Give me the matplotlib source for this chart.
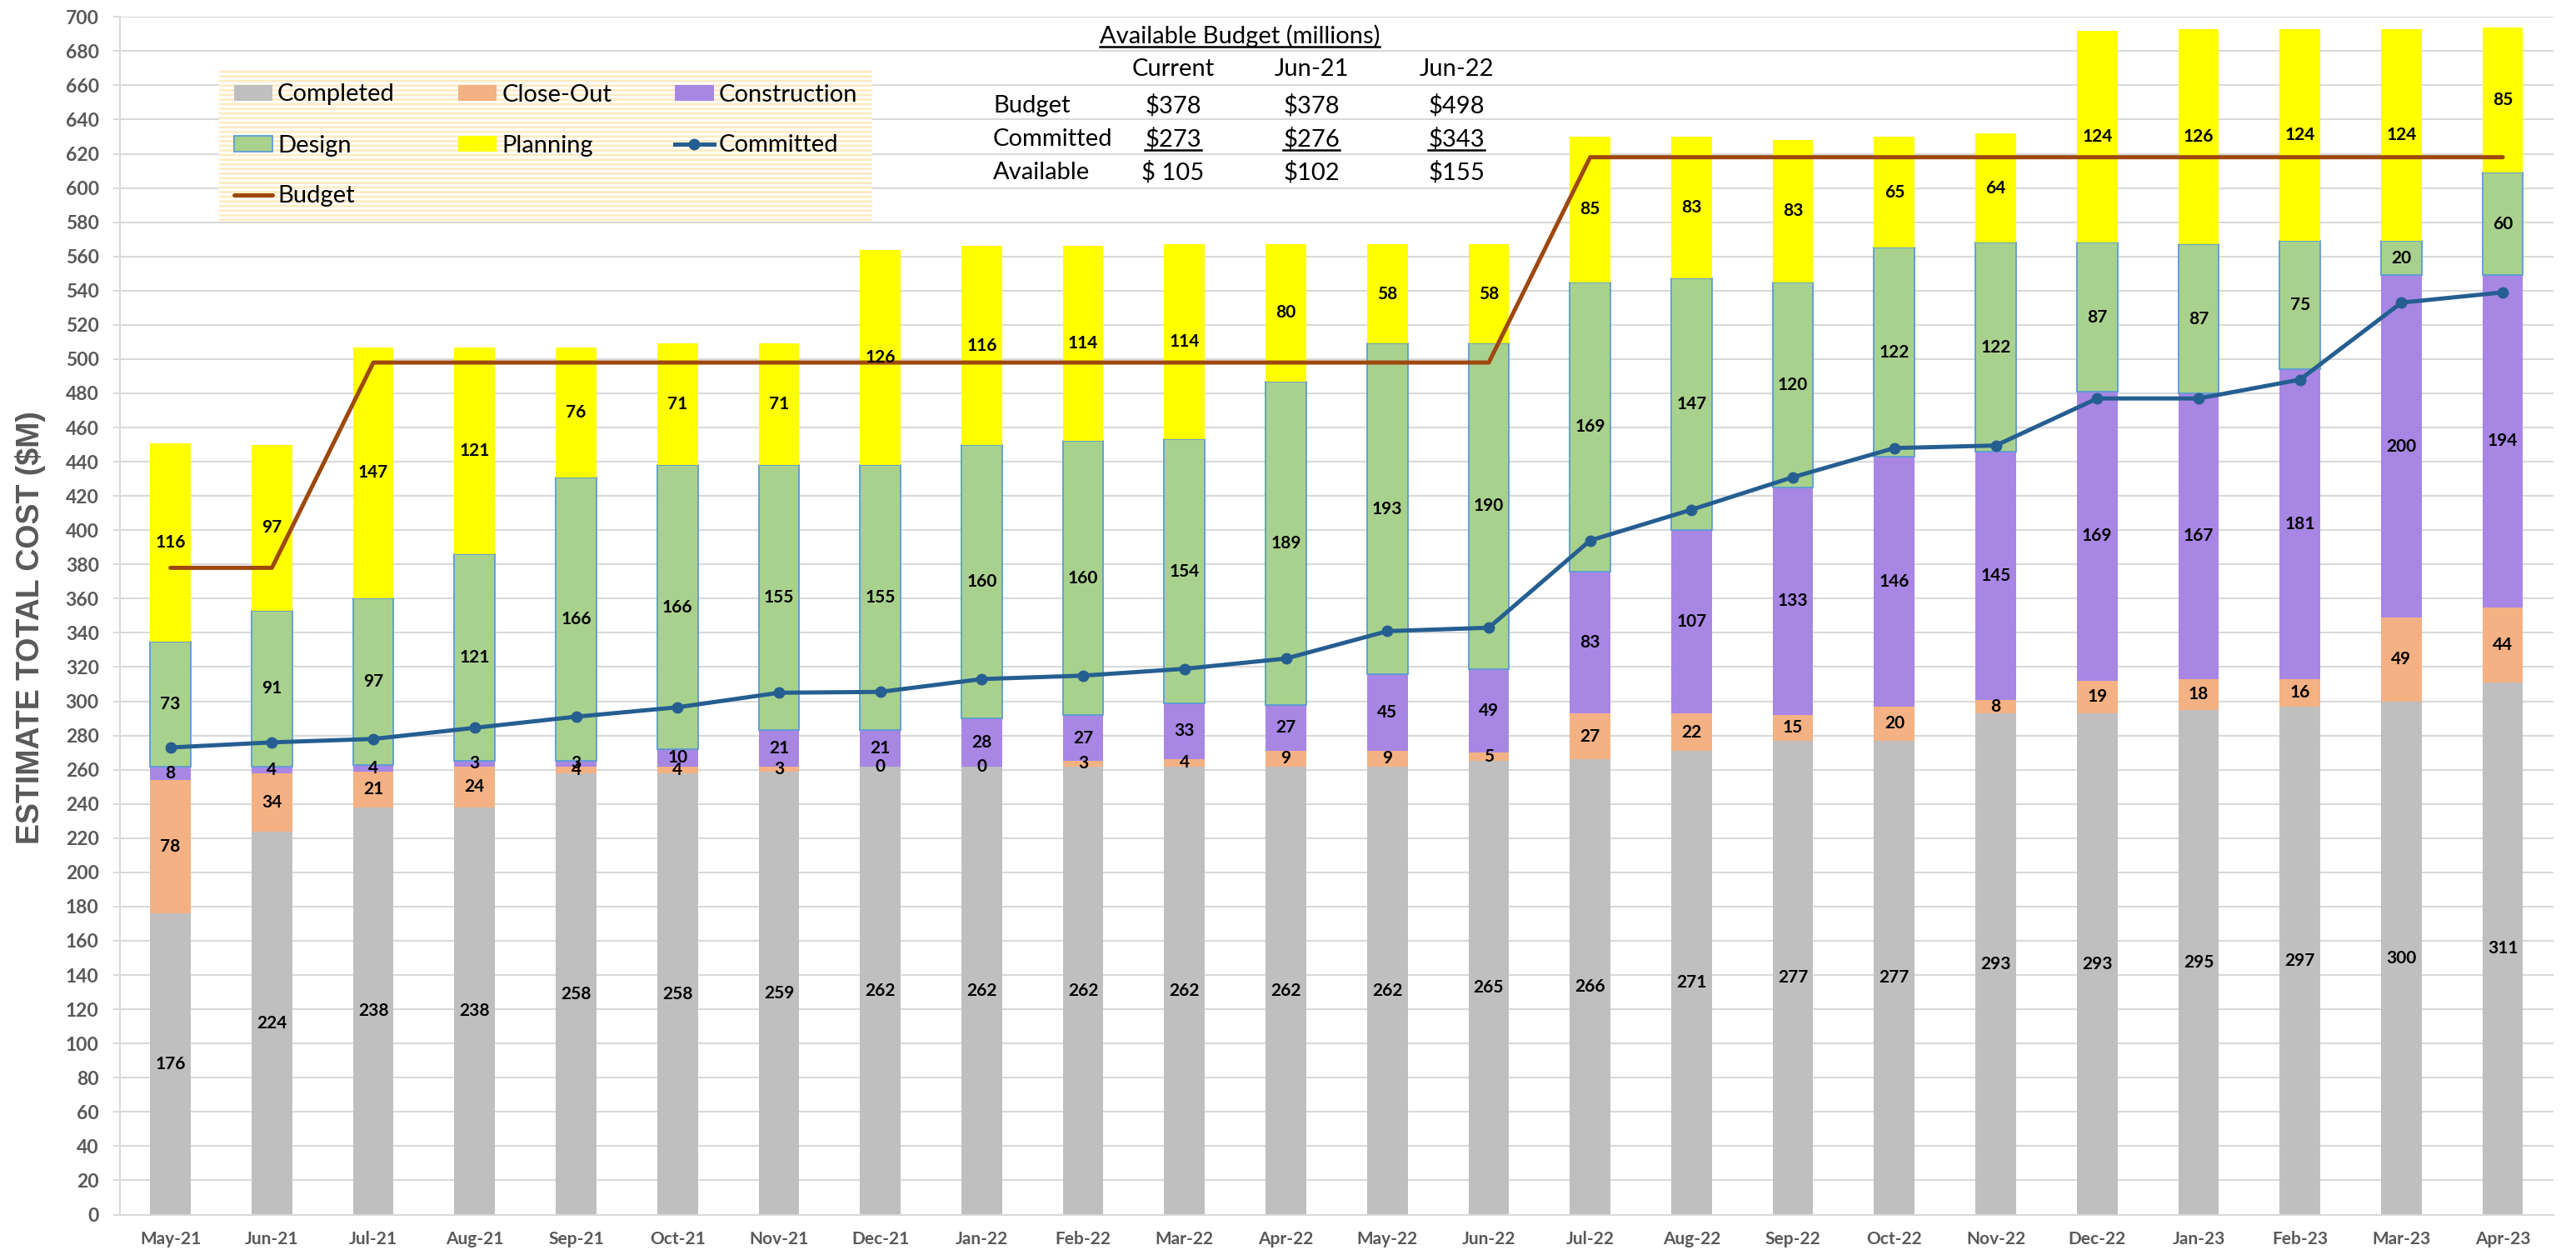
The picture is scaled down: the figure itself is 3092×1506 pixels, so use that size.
import matplotlib
matplotlib.use('Agg')
import matplotlib.pyplot as plt
import numpy as np

plt.rcParams['font.family'] = ['Lato', 'DejaVu Sans']
plt.rcParams['hatch.linewidth'] = 2.0

months = ['May-21', 'Jun-21', 'Jul-21', 'Aug-21', 'Sep-21', 'Oct-21', 'Nov-21', 'Dec-21',
          'Jan-22', 'Feb-22', 'Mar-22', 'Apr-22', 'May-22', 'Jun-22', 'Jul-22', 'Aug-22',
          'Sep-22', 'Oct-22', 'Nov-22', 'Dec-22', 'Jan-23', 'Feb-23', 'Mar-23', 'Apr-23']
completed = [176, 224, 238, 238, 258, 258, 259, 262, 262, 262, 262, 262,
             262, 265, 266, 271, 277, 277, 293, 293, 295, 297, 300, 311]
closeout = [78, 34, 21, 24, 4, 4, 3, 0, 0, 3, 4, 9,
            9, 5, 27, 22, 15, 20, 8, 19, 18, 16, 49, 44]
construction = [8, 4, 4, 3, 3, 10, 21, 21, 28, 27, 33, 27,
                45, 49, 83, 107, 133, 146, 145, 169, 167, 181, 200, 194]
design = [73, 91, 97, 121, 166, 166, 155, 155, 160, 160, 154, 189,
          193, 190, 169, 147, 120, 122, 122, 87, 87, 75, 20, 60]
planning = [116, 97, 147, 121, 76, 71, 71, 126, 116, 114, 114, 80,
            58, 58, 85, 83, 83, 65, 64, 124, 126, 124, 124, 85]
committed = [273, 276, 278, 284.5, 291, 296.5, 305, 305.5, 313, 315, 319, 325,
             341, 343, 394, 412, 431, 448, 449.5, 477, 477, 488, 533, 539]
budget = [378, 378, 498, 498, 498, 498, 498, 498, 498, 498, 498, 498,
          498, 498, 618, 618, 618, 618, 618, 618, 618, 618, 618, 618]

# little summary table in the top middle
tbl_title = 'Available Budget (millions)'
tbl_cols = ['Current', 'Jun-21', 'Jun-22']
tbl_rows = ['Budget', 'Committed', 'Available']
tbl_vals = [['$378', '$378', '$498'],
            ['$273', '$276', '$343'],
            ['$ 105', '$102', '$155']]

W, H = 3092, 1506
fig = plt.figure(figsize=(W/100, H/100), dpi=100)
ax = fig.add_axes([143.8/W, 1-1457.5/H, (3065-143.8)/W, (1457.5-20.3)/H])

x = np.arange(len(months))
bw = 0.4
series = [('Completed', completed, '#BFBFBF', 'none'),
          ('Close-Out', closeout, '#F4B183', 'none'),
          ('Construction', construction, '#A886E4', 'none'),
          ('Design', design, '#A9D18E', '#5B9BD5'),
          ('Planning', planning, '#FFFF00', 'none')]

bottom = np.zeros(len(months))
handles = {}
for name, vals, col, ec in series:
    vals = np.array(vals, dtype=float)
    b = ax.bar(x, vals, bw, bottom=bottom, color=col, edgecolor=ec,
               linewidth=1.3 if ec != 'none' else 0, label=name, zorder=2)
    handles[name] = b
    for xi, v, b0 in zip(x, vals, bottom):
        ax.text(xi, b0 + v/2, '%d' % v, ha='center', va='center',
                fontsize=15, fontweight='bold', color='black', zorder=6)
    bottom += vals

ln_c, = ax.plot(x, committed, color='#255E91', lw=3.6, marker='o', ms=9,
                label='Committed', zorder=4)
ln_b, = ax.plot(x, budget, color='#9E480E', lw=3.6, label='Budget', zorder=4,
                solid_capstyle='round')

ax.set_xlim(-0.5, len(months)-0.5)
ax.set_ylim(0, 700)
ax.set_yticks(np.arange(0, 701, 20))
ax.set_xticks(x)
ax.set_xticklabels(months)
ax.grid(axis='y', color='#D9D9D9', lw=1.5, zorder=0)
ax.set_axisbelow(True)
for s in ['top', 'right']:
    ax.spines[s].set_visible(False)
for s in ['left', 'bottom']:
    ax.spines[s].set_color('#D9D9D9')
    ax.spines[s].set_linewidth(1.5)
ax.tick_params(axis='y', length=6, width=1.5, color='#D9D9D9', pad=12,
               labelsize=16.5, labelcolor='#595959')
ax.tick_params(axis='x', length=0, pad=14, labelsize=15, labelcolor='#595959')
for t in ax.get_xticklabels() + ax.get_yticklabels():
    t.set_fontweight('bold')

fig.text(37/W, 0.5, 'ESTIMATE TOTAL COST ($M)', rotation=90, ha='center', va='center',
         fontsize=27, fontweight='bold', color='#595959', family='Liberation Sans')

order = ['Completed', 'Design', 'Budget', 'Close-Out', 'Planning', 'Construction', 'Committed']
hmap = dict(handles)
hmap['Committed'] = ln_c
hmap['Budget'] = ln_b
leg = ax.legend([hmap[k] for k in order], order, ncol=3, loc='upper left',
                bbox_to_anchor=(263/W, 1-83/H), bbox_transform=fig.transFigure,
                borderaxespad=0, fontsize=21, handlelength=1.6, handleheight=0.65,
                handletextpad=0.2, columnspacing=2.6, labelspacing=1.2,
                borderpad=0.6, fancybox=False, framealpha=1)
fr = leg.get_frame()
fr.set_facecolor('white')
fr.set_edgecolor('#FDEBC3')
fr.set_linewidth(0)
fr.set_hatch('---')

# table text
tsize = 21
t_title = fig.text(1488/W, 1-43/H, tbl_title, ha='center', va='center', fontsize=tsize)
col_x = [1408, 1574, 1748]
row_y = [127, 167, 207]
for cx, c in zip(col_x, tbl_cols):
    fig.text(cx/W, 1-83/H, c, ha='center', va='center', fontsize=tsize)
under = [t_title]
for ry, rname, rv in zip(row_y, tbl_rows, tbl_vals):
    fig.text(1192/W, 1-ry/H, rname, ha='left', va='center', fontsize=tsize)
    for cx, v in zip(col_x, rv):
        t = fig.text(cx/W, 1-ry/H, v, ha='center', va='center', fontsize=tsize)
        if rname == 'Committed':
            under.append(t)

fig.canvas.draw()
r = fig.canvas.get_renderer()
for t in under:
    bb = t.get_window_extent(r)
    yl = bb.y0 + 1
    fig.add_artist(plt.Line2D([bb.x0/W, bb.x1/W], [yl/H, yl/H], color='black',
                              lw=1.8, transform=fig.transFigure))

fig.savefig('out.png', dpi=100)
